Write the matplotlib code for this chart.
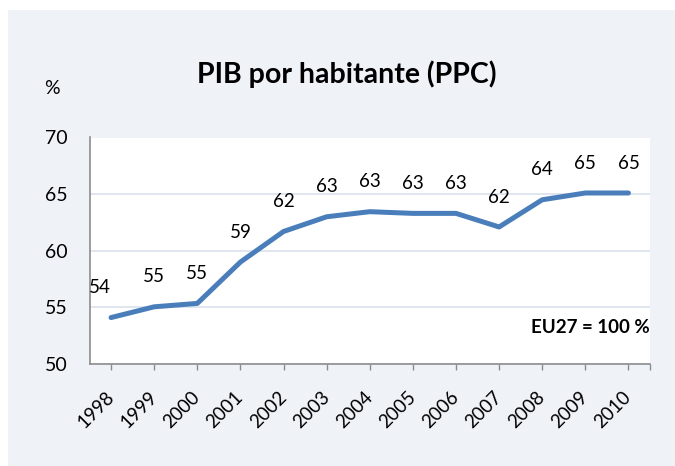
import matplotlib
matplotlib.use("Agg")
import matplotlib.pyplot as plt
from matplotlib.patches import Rectangle

years = ["1998", "1999", "2000", "2001", "2002", "2003", "2004",
         "2005", "2006", "2007", "2008", "2009", "2010"]
values = [54.1, 55.05, 55.35, 59.0, 61.7, 63.0, 63.45, 63.3, 63.3, 62.1, 64.5, 65.1, 65.1]
value_labels = ["54", "55", "55", "59", "62", "63", "63", "63", "63", "62", "64", "65", "65"]
yticks = [50, 55, 60, 65, 70]

FONT = "Lato"
plt.rcParams["font.family"] = [FONT, "DejaVu Sans"]

W, H = 675, 466
fig = plt.figure(figsize=(W / 100, H / 100), dpi=100, facecolor="white")
fig.patches.append(Rectangle((8 / W, 0), 1 - 8 / W, 1 - 10 / H, transform=fig.transFigure,
                             facecolor="#eff3f8", edgecolor="none", zorder=-10))

left, right, top, bottom = 89.5, 650, 137.5, 364
ax = fig.add_axes([left / W, 1 - bottom / H, (right - left) / W, (bottom - top) / H])
ax.set_facecolor("white")
ax.set_xlim(-0.5, len(years) - 0.5)
ax.set_ylim(50, 70)

x = list(range(len(years)))
ax.plot(x, values, color="#4a7ebb", lw=3.6, solid_joinstyle="round",
        solid_capstyle="round", zorder=3, clip_on=False)

for i, (v, lab) in enumerate(zip(values, value_labels)):
    dx = -8 if i == 0 else 0
    ax.annotate(lab, (i, v), xytext=(dx, 21.5), textcoords="offset points",
                ha="center", va="center", fontsize=13.5, color="black")

ax.set_yticks(yticks)
ax.set_yticklabels([str(t) for t in yticks], fontsize=14)
ax.tick_params(axis="y", length=0, pad=16)
ax.grid(axis="y", color="#d9e2ee", lw=1.2)
ax.set_axisbelow(True)

ax.set_xticks(x)
ax.set_xticklabels(years, fontsize=13.5, rotation=45, ha="right", va="center",
                   rotation_mode="anchor")
ax.set_xticks([len(years) - 0.5], minor=True)
ax.tick_params(axis="x", which="both", length=4, width=1, color="#8c8c8c", pad=18)

for s in ["top", "right"]:
    ax.spines[s].set_visible(False)
for s in ["left", "bottom"]:
    ax.spines[s].set_color("#8c8c8c")
    ax.spines[s].set_linewidth(1.2)

fig.text(347 / W, 1 - 74 / H, "PIB por habitante (PPC)", fontsize=20.5, fontweight="bold",
         ha="center", va="center")
fig.text(52 / W, 1 - 88 / H, "%", fontsize=14, ha="center", va="center")
ax.text(1.0, 0.16, "EU27 = 100 %", transform=ax.transAxes, fontsize=13.5, fontweight="bold",
        ha="right", va="center")

fig.savefig("out.png", dpi=100, facecolor="white")
